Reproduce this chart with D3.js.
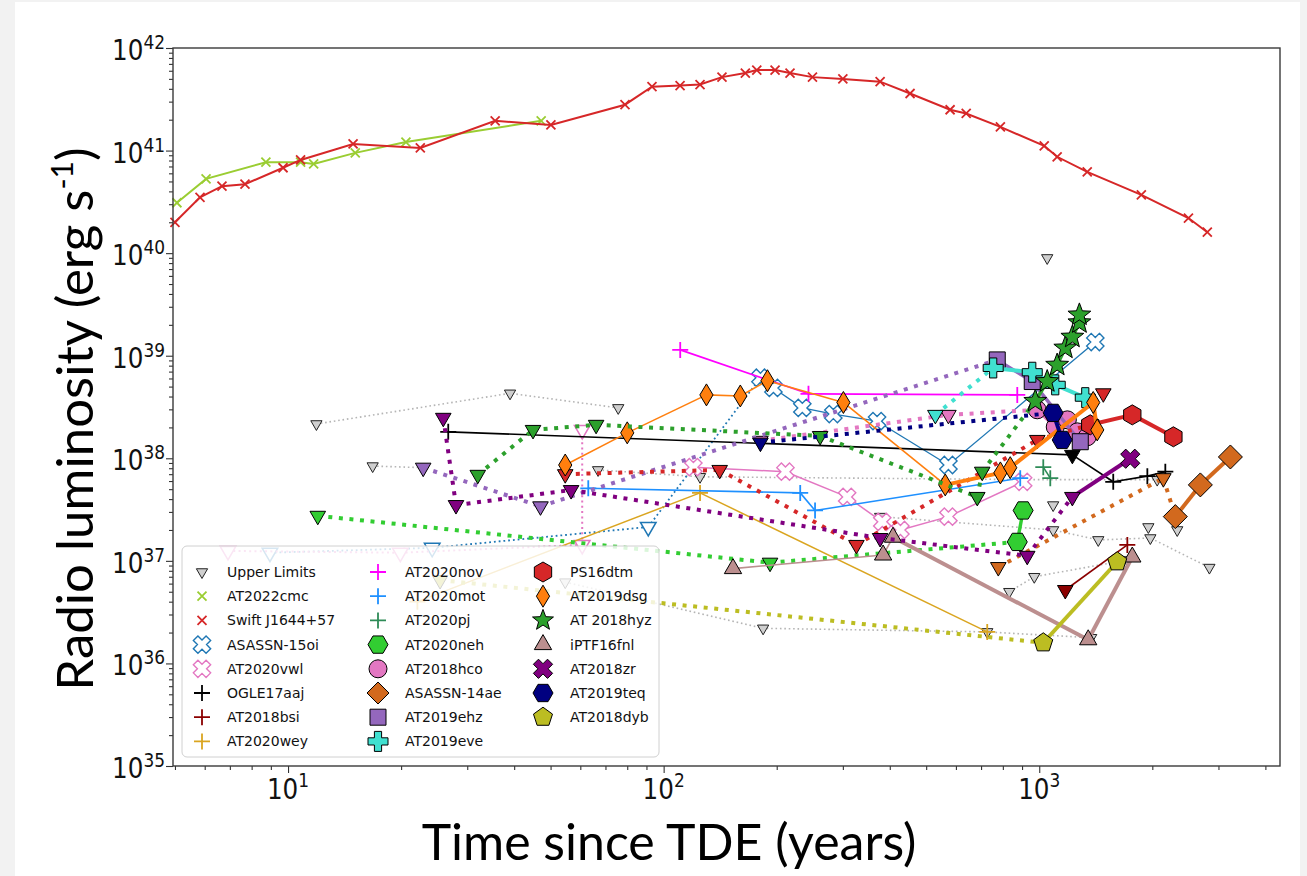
<!DOCTYPE html>
<html><head><meta charset="utf-8">
<script src="https://cdn.jsdelivr.net/npm/d3@7"></script>
<style>body{margin:0;background:#f2f2f2;}svg{display:block}</style>
</head><body><svg id="c" width="1307" height="876"></svg>
<script>
// ---------------- DATA (time since TDE in years, radio luminosity erg/s) ----------------
// flag: 'u' = upper limit (joined), 'i' = isolated upper limit, none = detection
const xTicksMajor = [10, 100, 1000];
const xTickLabels = ["1", "2", "3"];
const yTicksMajor = [1e35, 1e36, 1e37, 1e38, 1e39, 1e40, 1e41, 1e42];
const yTickLabels = ["35", "36", "37", "38", "39", "40", "41", "42"];

const at2022cmc = [[5.06,3.1e40],[6.05,5.3e40],[8.73,7.7e40],[10.8,7.7e40],[11.7,7.4e40],[15.1,9.5e40],[20.6,1.21e41],[47.2,1.95e41]];
const swiftJ1644 = [[5.0,2.0e40],[5.83,3.5e40],[6.67,4.5e40],[7.68,4.7e40],[9.7,6.8e40],[10.8,8.1e40],[14.9,1.16e41],[22.5,1.06e41],[35.6,1.95e41],[50.1,1.78e41],[78.9,2.8e41],[93.1,4.2e41],[110.6,4.3e41],[125,4.4e41],[143,5.2e41],[165,5.7e41],[177,6.1e41],[198,6.1e41],[217,5.7e41],[249,5.2e41],[300,5.0e41],[377,4.7e41],[453,3.6e41],[579,2.5e41],[639,2.3e41],[788,1.7e41],[1031,1.11e41],[1116,8.7e40],[1342,6.2e40],[1870,3.7e40],[2496,2.2e40],[2802,1.6e40]];

const upperLimitChains = [
  [[11.9,2.16e38],[39,4.3e38],[75.7,3.1e38]],
  [[16.8,8.4e37],[22.9,8.1e37]],
  [[66.9,7.7e37],[125,6.6e37],[900,6.2e37],[2061,6.2e37]],
  [[54.7,6.2e36],[184,2.2e36],[727,2.03e36],[1375,1.78e36]],
  [[377,2.7e37],[1089,2.0e37],[1436,1.6e37],[1976,1.67e37],[2838,8.6e36]],
  [[832,5.0e36],[970,7.0e36],[1716,1.02e37]]
];
const upperLimitSingles = [[1050,8.98e39],[1089,3.5e37],[1952,2.14e37],[2330,2.0e37]];

const asassn15oi = [[8.95,1.2e37,'u'],[24.2,1.34e37,'u'],[91,2.14e37,'u'],[181,6.1e38],[196,4.85e38],[234,3.1e38],[283,2.7e38],[370,2.3e38],[573,8.6e37],[1410,1.36e39]];
const at2020vwl = [[6.92,1.25e37,'u'],[19.9,1.2e37,'u'],[60.7,1.43e37,'u'],[60.7,1.89e38,'u'],[120,8.2e37],[211,7.4e37],[308,4.2e37],[382,2.4e37],[427,2.0e37],[573,2.7e37],[906,5.9e37]];
const ogle17aaj = [[26.7,1.81e38],[1225,1.08e38,'u'],[1574,5.9e37],[1940,6.7e37],[2166,7.4e37]];
const at2018bsi = [[1173,5.2e36,'u'],[1716,1.43e37]];
const at2020wey = [[22.1,4.0e36],[125,4.6e37],[727,2.03e36]];
const at2020nov = [[110.7,1.14e39],[243,4.25e38],[874,4.15e38]];
const at2020mot = [[63,5.1e37],[231,4.6e37],[253,3.1e37],[890,6.4e37]];
const at2020pj = [[1025,8.2e37],[1070,6.4e37]];
const at2020neh = [[12,2.75e37,'u'],[192,9.6e36,'u'],[874,1.53e37],[906,3.1e37]];
const at2018hco = [[181,1.48e38,'u'],[573,2.65e38,'u'],[988,2.97e38],[1103,2.02e38],[1188,2.37e38],[1263,1.81e38],[1342,1.62e38]];
const asassn14ae = [[778,8.7e36,'u'],[2140,6.4e37,'u'],[2303,2.7e37],[2685,5.5e37],[3228,1.03e38]];
const at2019ehz = [[22.9,8.1e37,'u'],[47,3.4e37,'u'],[773,9.1e38],[958,5.6e38],[1286,1.45e38]];
const at2019eve = [[529,2.65e38,'u'],[754,7.6e38],[958,6.9e38],[1103,5.2e38],[1326,3.9e38]];
const ps16dtm = [[54.7,7.0e37,'u'],[141,7.7e37,'u'],[326,1.43e37,'u'],[988,1.51e38,'u'],[1367,2.12e38],[1481,4.3e38,'i'],[1769,2.65e38],[2276,1.62e38]];
const at2019dsg = [[54.7,8.6e37],[80,1.77e38],[130,4.15e38],[160,4.05e38],[189,5.7e38],[301,3.5e38],[562,5.5e37],[788,7.2e37],[837,8.1e37],[1392,3.5e38],[1427,1.89e38]];
const at2018hyz = [[32,6.9e37,'u'],[44.9,1.89e38,'u'],[66.1,2.12e38,'u'],[261,1.65e38,'u'],[684,4.2e37,'u'],[705,7.4e37,'u'],[976,3.6e38],[1050,5.6e38],[1116,8.1e38],[1173,1.19e39],[1225,1.52e39],[1279,2.1e39],[1279,2.5e39]];
const iptf16fnl = [[153,8.4e36],[384,1.14e37],[408,1.7e37],[1350,1.7e36],[1769,1.09e37]];
const at2018zr = [[25.9,2.48e38,'u'],[28,3.5e37,'u'],[56.7,4.9e37,'u'],[377,1.67e37,'u'],[929,1.12e37,'u'],[1225,4.2e37,'u'],[1747,9.9e37]];
const at2019teq = [[181,1.42e38,'u'],[1089,2.77e38],[1151,1.51e38]];
const at2018dyb = [[25.4,6.5e36,'u'],[1025,1.59e36],[1613,9.8e36]];

// ---------------- STYLES ----------------
const series = [
  {name:'ASASSN-15oi', pts:asassn15oi, color:'#1f77b4', shape:'xFat', r:9, open:true, lw:1.3, dlw:1.8, link:'dotted', ulOpen:true},
  {name:'AT2020vwl', pts:at2020vwl, color:'#e377c2', shape:'xFat', r:9, open:true, lw:1.5, dlw:2, link:'none', ulOpen:true},
  {name:'OGLE17aaj', pts:ogle17aaj, color:'#000000', shape:'plus', r:8, lw:1.6, dlw:1.6, link:'solid'},
  {name:'AT2018bsi', pts:at2018bsi, color:'#8b0000', shape:'plus', r:8, lw:1.6, dlw:1.6, link:'solid'},
  {name:'AT2020wey', pts:at2020wey, color:'#daa520', shape:'plus', r:8, lw:1.5, dlw:1.5, link:'solid'},
  {name:'AT2020nov', pts:at2020nov, color:'#ff00ff', shape:'plus', r:8, lw:1.6, dlw:1.6, link:'solid'},
  {name:'AT2020mot', pts:at2020mot, color:'#1e90ff', shape:'plus', r:8, lw:1.6, dlw:1.6, link:'solid'},
  {name:'AT2020pj', pts:at2020pj, color:'#2e8b57', shape:'plus', r:8, lw:1.6, dlw:1.6, link:'solid'},
  {name:'AT2020neh', pts:at2020neh, color:'#32cd32', shape:'hexF', r:10, lw:3.5, dlw:4, link:'dotted'},
  {name:'AT2018hco', pts:at2018hco, color:'#e377c2', shape:'circle', r:9, lw:3.5, dlw:4, link:'dotted'},
  {name:'ASASSN-14ae', pts:asassn14ae, color:'#d2691e', shape:'diamond', r:12, lw:4, dlw:4, link:'dotted'},
  {name:'AT2019ehz', pts:at2019ehz, color:'#9467bd', shape:'square', r:8, lw:3.5, dlw:4, link:'dotted'},
  {name:'AT2019eve', pts:at2019eve, color:'#40e0d0', shape:'plusFat', r:10, lw:4, dlw:4, link:'dotted'},
  {name:'PS16dtm', pts:ps16dtm, color:'#d62728', shape:'hexP', r:10, lw:4, dlw:4, link:'dotted'},
  {name:'AT2019dsg', pts:at2019dsg, color:'#ff7f0e', shape:'thinDiamond', r:11, lw:4, dlw:4, link:'dotted', thinIdx:6, thinW:1.6},
  {name:'AT 2018hyz', pts:at2018hyz, color:'#2ca02c', shape:'star', r:12, lw:3.5, dlw:4, link:'dotted'},
  {name:'iPTF16fnl', pts:iptf16fnl, color:'#bc8f8f', shape:'triUp', r:10, lw:4, dlw:4, link:'dotted', thinIdx:2, thinW:1.6},
  {name:'AT2018zr', pts:at2018zr, color:'#800080', shape:'xFat', r:10, lw:4, dlw:4, link:'solid'},
  {name:'AT2019teq', pts:at2019teq, color:'#000080', shape:'hexF', r:10, lw:4, dlw:4, link:'dotted'},
  {name:'AT2018dyb', pts:at2018dyb, color:'#bcbd22', shape:'pent', r:10, lw:4, dlw:4, link:'dotted'}
];

// ---------------- SETUP ----------------
const svg = d3.select('#c');
const M = {l:173, r:1280, t:48, b:766};
const x = d3.scaleLog().domain([4.94, 4375]).range([M.l, M.r]);
const y = d3.scaleLog().domain([1e35, 1e42]).range([M.b, M.t]);

svg.append('rect').attr('x',15).attr('y',2).attr('width',1285).attr('height',874).attr('fill','#ffffff');

function poly(p){return 'M'+p.map(q=>q[0].toFixed(2)+','+q[1].toFixed(2)).join('L')+'Z';}
function regular(n,r,s){const a=[];for(let i=0;i<n;i++){const t=s+i*2*Math.PI/n;a.push([r*Math.cos(t),r*Math.sin(t)]);}return poly(a);}
function plusPts(r){const w=r*0.36;return [[-w,-r],[w,-r],[w,-w],[r,-w],[r,w],[w,w],[w,r],[-w,r],[-w,w],[-r,w],[-r,-w],[-w,-w]];}
const shapes = {
  triDown:r=>poly([[0,r],[-0.866*r,-0.5*r],[0.866*r,-0.5*r]]),
  triUp:r=>poly([[0,-r],[-0.866*r,0.5*r],[0.866*r,0.5*r]]),
  hexP:r=>regular(6,r,-Math.PI/2),
  hexF:r=>regular(6,r,0),
  pent:r=>regular(5,r,-Math.PI/2),
  star:r=>{const a=[];for(let i=0;i<10;i++){const rr=i%2?r*0.42:r;const t=-Math.PI/2+i*Math.PI/5;a.push([rr*Math.cos(t),rr*Math.sin(t)]);}return poly(a);},
  diamond:r=>poly([[0,-r],[r,0],[0,r],[-r,0]]),
  thinDiamond:r=>poly([[0,-r],[0.6*r,0],[0,r],[-0.6*r,0]]),
  square:r=>poly([[-r,-r],[r,-r],[r,r],[-r,r]]),
  circle:r=>`M${r},0A${r},${r} 0 1,1 ${-r},0A${r},${r} 0 1,1 ${r},0Z`,
  plusFat:r=>poly(plusPts(r)),
  xFat:r=>{const c=Math.SQRT1_2;return poly(plusPts(r).map(p=>[c*(p[0]-p[1]),c*(p[0]+p[1])]));},
  plus:r=>`M${-r},0H${r}M0,${-r}V${r}`,
  cross:r=>`M${-r},${-r}L${r},${r}M${-r},${r}L${r},${-r}`
};
function marker(g, shape, r, cx, cy, o){
  const lineOnly = (shape==='plus'||shape==='cross');
  g.append('path').attr('d', shapes[shape](r)).attr('transform',`translate(${cx},${cy})`)
    .attr('fill', lineOnly ? 'none' : o.fill)
    .attr('stroke', o.stroke).attr('stroke-width', o.sw);
}

const plotG = svg.append('g');
const line = d3.line().x(d=>x(d[0])).y(d=>y(d[1]));
function dash(w){return `${w},${(w*1.65).toFixed(2)}`;}

// generic upper limits
upperLimitChains.forEach(ch=>{
  plotG.append('path').attr('d', line(ch)).attr('fill','none').attr('stroke','#b5b5b5')
    .attr('stroke-width',1.6).attr('stroke-dasharray','1.6,2.8');
});
const ulAll = upperLimitChains.flat().concat(upperLimitSingles);

function xLine(data, color){
  plotG.append('path').attr('d', line(data)).attr('fill','none').attr('stroke',color).attr('stroke-width',2);
  data.forEach(d=>marker(plotG,'cross',4.5,x(d[0]),y(d[1]),{stroke:color,sw:1.8}));
}
ulAll.forEach(d=>marker(plotG,'triDown',6.5,x(d[0]),y(d[1]),{fill:'#cfcfcf',stroke:'#222',sw:1}));
xLine(at2022cmc,'#9acd32');
xLine(swiftJ1644,'#d62728');

series.forEach(s=>{
  const g = plotG.append('g');
  const c = s.pts.filter(p=>p[2]!=='i');
  for(let i=0;i<c.length-1;i++){
    const a=c[i], b=c[i+1];
    const au=a[2]==='u', bu=b[2]==='u';
    let type = (!au&&!bu)?'solid':(au&&bu)?'dotted':s.link;
    if(type==='none') continue;
    let w = type==='solid'? s.lw : s.dlw;
    if(type==='solid' && s.thinIdx!==undefined && i < s.thinIdx) w = s.thinW;
    g.append('path').attr('d', line([a,b])).attr('fill','none').attr('stroke', s.color)
      .attr('stroke-width', w).attr('stroke-dasharray', type==='dotted'? dash(w) : null);
  }
  s.pts.filter(p=>p[2]==='u'||p[2]==='i').forEach(p=>{
    marker(g,'triDown',9,x(p[0]),y(p[1]), s.ulOpen ? {fill:'#ffffff',stroke:s.color,sw:1.5} : {fill:s.color,stroke:'#000',sw:1});
  });
  s.pts.filter(p=>!p[2]).forEach(p=>{
    if(s.shape==='plus') marker(g,'plus',s.r,x(p[0]),y(p[1]),{stroke:s.color,sw:1.8});
    else if(s.open) marker(g,s.shape,s.r,x(p[0]),y(p[1]),{fill:'#ffffff',stroke:s.color,sw:1.4});
    else marker(g,s.shape,s.r,x(p[0]),y(p[1]),{fill:s.color,stroke:'#000',sw:1});
  });
});

// ---------------- AXES ----------------
const axG = svg.append('g');
function minorTicks(lo, hi){const a=[];for(let e=lo;e<hi;e++){for(let k=2;k<=9;k++)a.push(k*Math.pow(10,e));}return a;}
const xMinor = minorTicks(0,4).filter(v=>v>=x.domain()[0]&&v<=x.domain()[1]);
const yMinor = minorTicks(35,42);
axG.append('g').attr('transform',`translate(0,${M.b})`).call(d3.axisBottom(x).tickValues(xMinor).tickSize(4).tickFormat(''));
axG.append('g').attr('transform',`translate(0,${M.b})`).call(d3.axisBottom(x).tickValues(xTicksMajor).tickSize(7).tickFormat(''));
axG.append('g').attr('transform',`translate(${M.l},0)`).call(d3.axisLeft(y).tickValues(yMinor).tickSize(4).tickFormat(''));
axG.append('g').attr('transform',`translate(${M.l},0)`).call(d3.axisLeft(y).tickValues(yTicksMajor).tickSize(7).tickFormat(''));
axG.selectAll('.domain').remove();
axG.selectAll('.tick line').attr('stroke','#333').attr('stroke-width',1.1);
svg.append('rect').attr('x',M.l).attr('y',M.t).attr('width',M.r-M.l).attr('height',M.b-M.t)
  .attr('fill','none').attr('stroke','#3a3a3a').attr('stroke-width',1.4);

const font = "'DejaVu Sans', sans-serif";
yTicksMajor.forEach((v,i)=>{
  const t = svg.append('g').attr('transform',`translate(165,${y(v)+12}) scale(0.85,1)`)
    .append('text').attr('text-anchor','end').attr('font-family',font).attr('fill','#111');
  t.append('tspan').attr('font-size',29).text('10');
  t.append('tspan').attr('font-size',20).attr('dy',-11).text(yTickLabels[i]);
});
xTicksMajor.forEach((v,i)=>{
  const t = svg.append('g').attr('transform',`translate(${x(v)},799) scale(0.85,1)`)
    .append('text').attr('text-anchor','middle').attr('font-family',font).attr('fill','#111');
  t.append('tspan').attr('font-size',29).text('10');
  t.append('tspan').attr('font-size',20).attr('dy',-12).text(xTickLabels[i]);
});

svg.append('text').attr('x',669).attr('y',860).attr('text-anchor','middle')
  .attr('font-family',"Lato, 'Open Sans', sans-serif").attr('font-size',50).attr('fill','#000')
  .text('Time since TDE (years)');
const yt = svg.append('text').attr('transform','translate(93,419) rotate(-90)').attr('text-anchor','middle')
  .attr('font-family',"Lato, 'Open Sans', sans-serif").attr('font-size',51).attr('fill','#000');
yt.append('tspan').text('Radio luminosity (erg s');
yt.append('tspan').attr('font-size',30).attr('dy',-20).text('-1');
yt.append('tspan').attr('dy',20).text(')');

// ---------------- LEGEND ----------------
const leg = svg.append('g');
leg.append('rect').attr('x',182).attr('y',546).attr('width',477).attr('height',211).attr('rx',5)
  .attr('fill','#ffffff').attr('fill-opacity',0.82).attr('stroke','#d0d0d0').attr('stroke-width',1);
const legendItems = [{name:'Upper Limits', kind:'ul'},{name:'AT2022cmc', kind:'x', color:'#9acd32'},{name:'Swift J1644+57', kind:'x', color:'#d62728'}]
  .concat(series.map(s=>({name:s.name, kind:'s', s})));
const colX = [202, 378, 543], rowY0 = 572, rowH = 24.2;
legendItems.forEach((it,i)=>{
  const col = Math.floor(i/8), row = i%8;
  const mx = colX[col], my = rowY0 + row*rowH;
  if(it.kind==='ul') marker(leg,'triDown',6.5,mx,my,{fill:'#cfcfcf',stroke:'#222',sw:1});
  else if(it.kind==='x') marker(leg,'cross',4.5,mx,my,{stroke:it.color,sw:1.8});
  else {
    const s = it.s;
    if(s.shape==='plus') marker(leg,'plus',s.r,mx,my,{stroke:s.color,sw:1.8});
    else if(s.open) marker(leg,s.shape,s.r,mx,my,{fill:'#ffffff',stroke:s.color,sw:1.4});
    else marker(leg,s.shape,Math.min(s.r,11),mx,my,{fill:s.color,stroke:'#000',sw:1});
  }
  leg.append('text').attr('x',mx+25+(col>0?2:0)).attr('y',my+5).attr('font-family',font).attr('font-size',14)
    .attr('fill','#111').text(it.name);
});
</script></body></html>
